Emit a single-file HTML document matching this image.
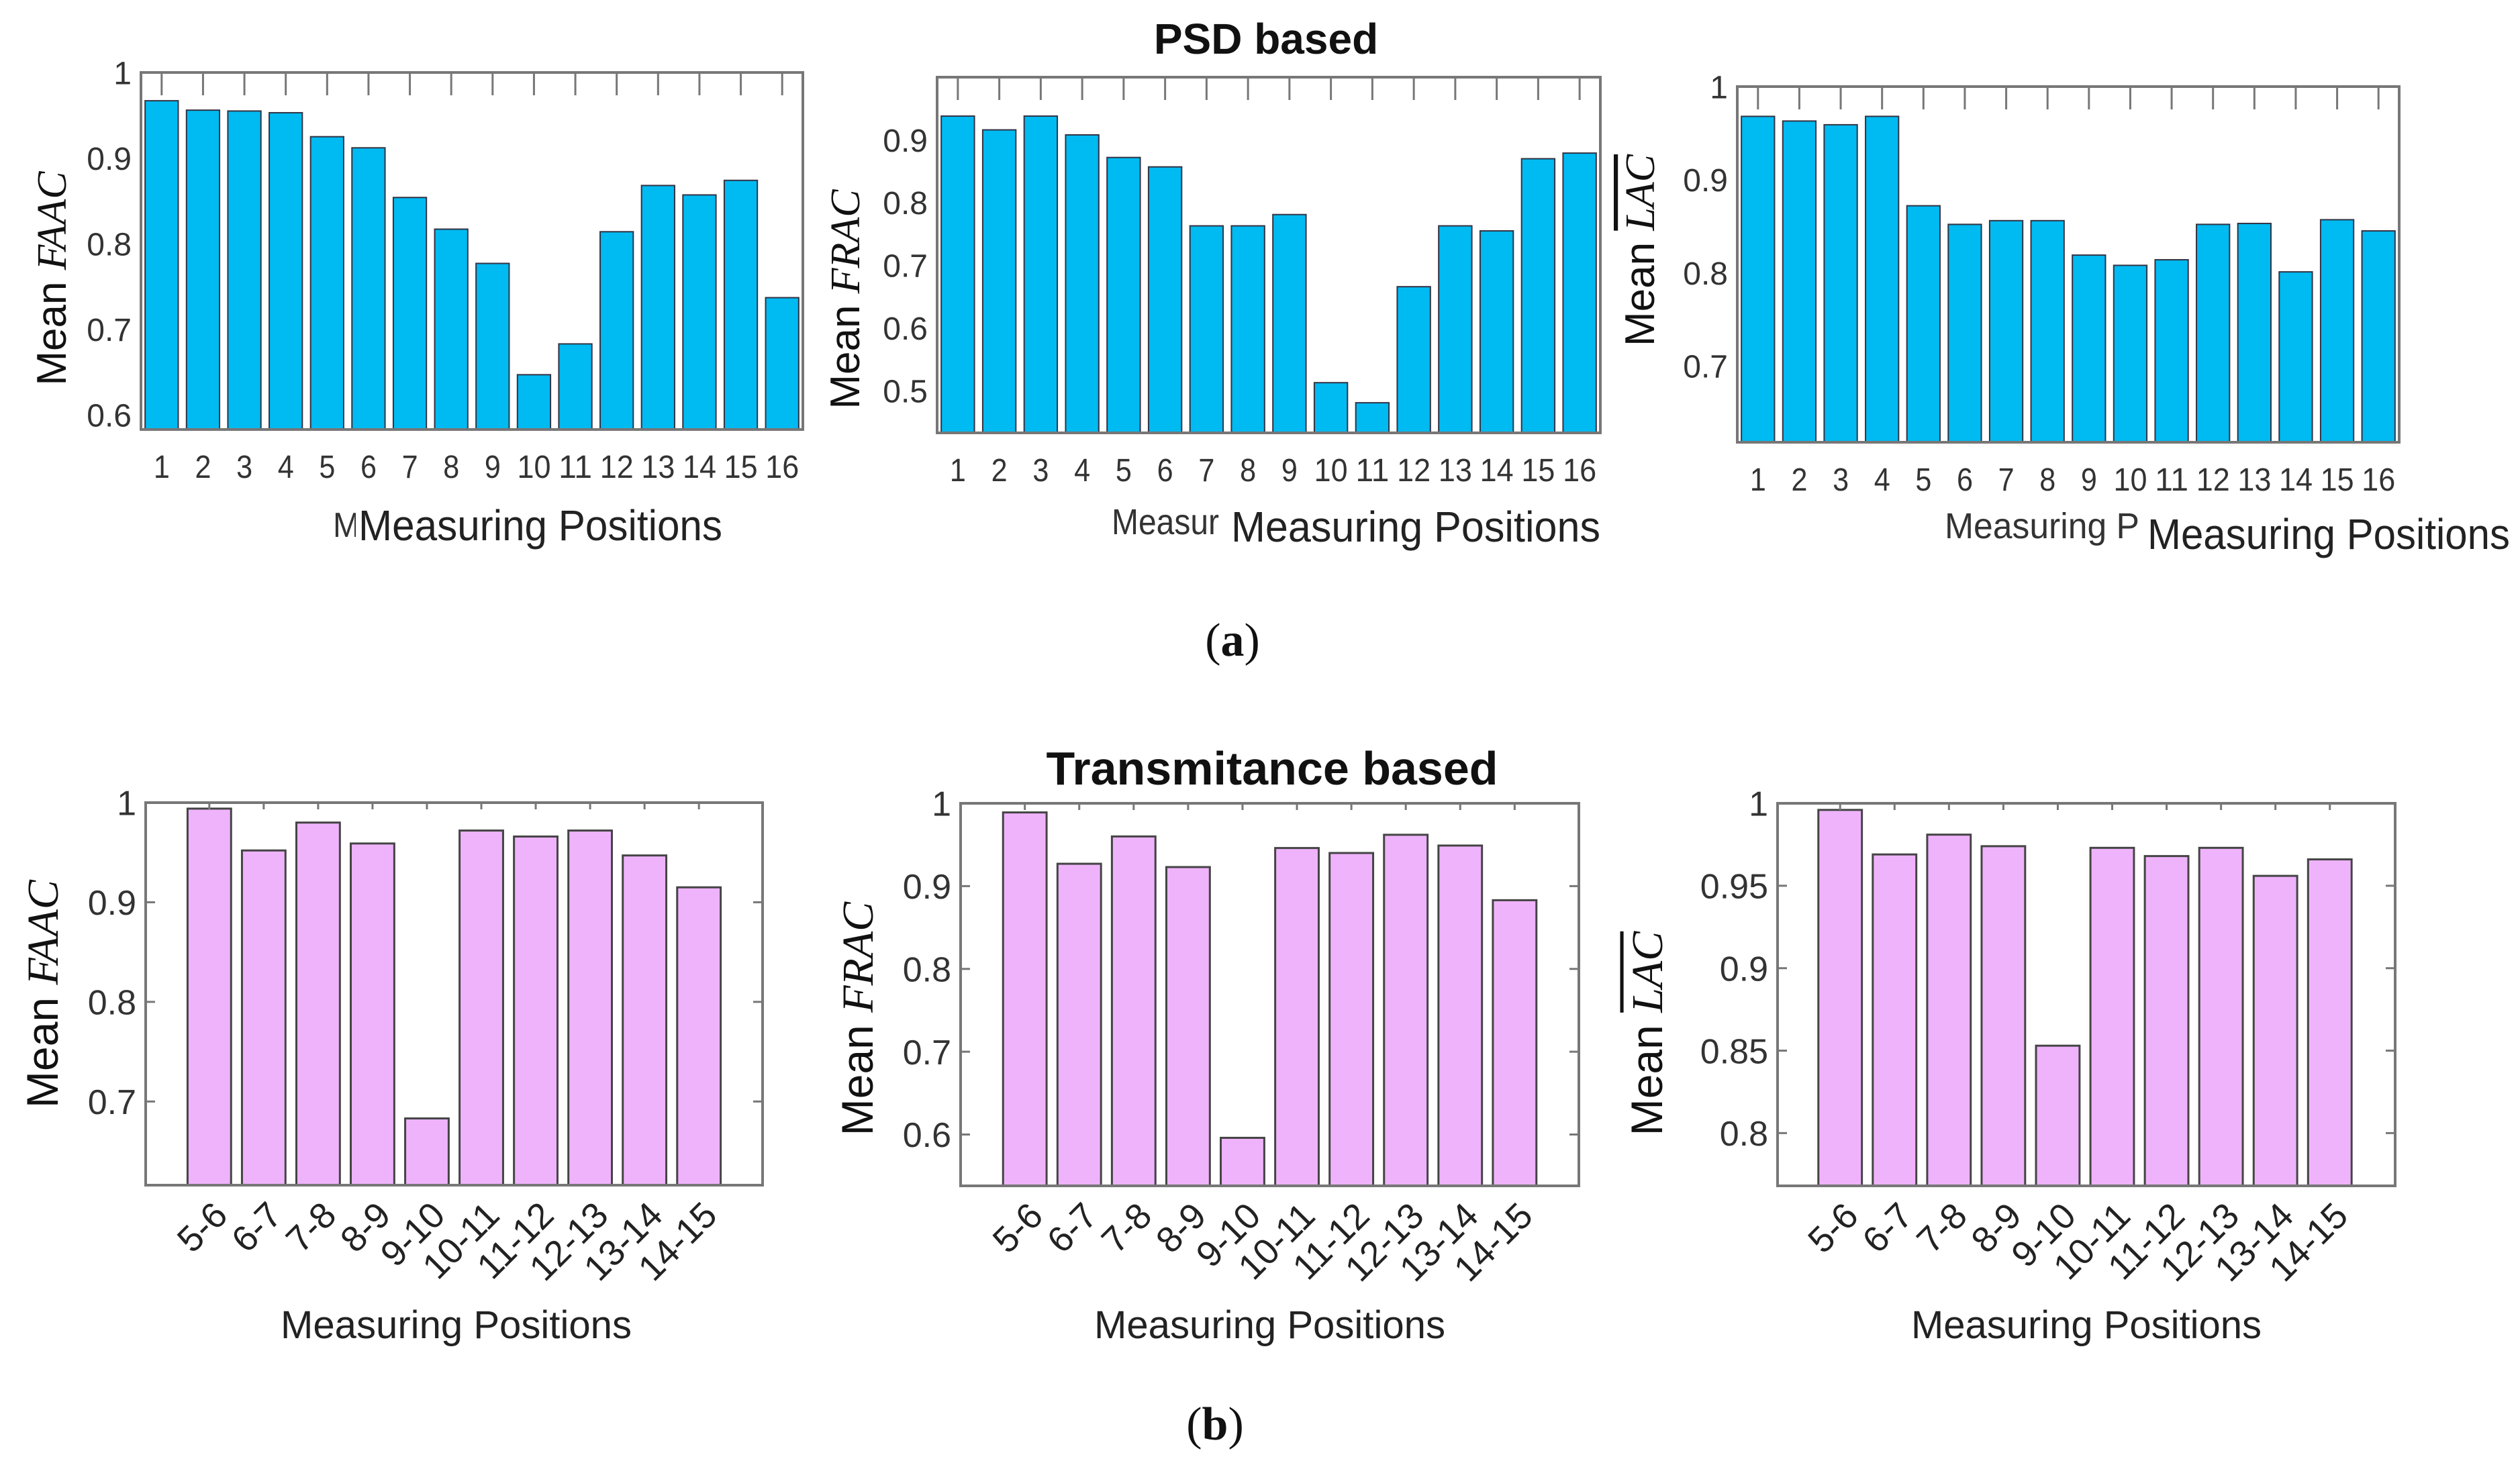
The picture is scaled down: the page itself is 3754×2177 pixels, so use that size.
<!DOCTYPE html>
<html><head><meta charset="utf-8"><style>
html,body{margin:0;padding:0;background:#fff;}
svg{display:block;}
</style></head><body>
<svg id="fig" width="3754" height="2177" viewBox="0 0 3754 2177" xmlns="http://www.w3.org/2000/svg">
<rect width="3754" height="2177" fill="#fff"/>
<text x="1886" y="80" text-anchor="middle" font-family="Liberation Sans, sans-serif" font-weight="bold" font-size="64" fill="#111">PSD based</text>
<text x="1895" y="1169" text-anchor="middle" font-family="Liberation Sans, sans-serif" font-weight="bold" font-size="70" fill="#111">Transmitance based</text>
<text x="1836" y="977" text-anchor="middle" font-family="Liberation Serif, serif" font-size="70" fill="#111">(<tspan font-weight="bold">a</tspan>)</text>
<text x="1810" y="2145" text-anchor="middle" font-family="Liberation Serif, serif" font-size="70" fill="#111">(<tspan font-weight="bold">b</tspan>)</text>
</svg>
<script>
const posCats = ["1","2","3","4","5","6","7","8","9","10","11","12","13","14","15","16"];
const pairCats = ["5-6","6-7","7-8","8-9","9-10","10-11","11-12","12-13","13-14","14-15"];
const psdFAAC = [0.967,0.956,0.955,0.953,0.925,0.912,0.854,0.817,0.777,0.647,0.683,0.814,0.868,0.857,0.874,0.737];
const psdFRAC = [0.938,0.916,0.938,0.908,0.872,0.857,0.763,0.763,0.781,0.513,0.481,0.666,0.763,0.755,0.870,0.879];
const psdLAC  = [0.968,0.963,0.959,0.968,0.872,0.852,0.856,0.856,0.819,0.808,0.814,0.852,0.853,0.801,0.857,0.845];
const trFAAC = [0.994,0.952,0.980,0.959,0.683,0.972,0.966,0.972,0.947,0.915];
const trFRAC = [0.989,0.927,0.960,0.923,0.596,0.946,0.940,0.962,0.949,0.883];
const trLAC  = [0.996,0.969,0.981,0.974,0.853,0.973,0.968,0.973,0.956,0.966];
const ticksFAAC = [0.6,0.7,0.8,0.9,1];
const ticksFRAC = [0.5,0.6,0.7,0.8,0.9];
const ticksLAC = [0.7,0.8,0.9,1];
const ticksTrFAAC = [0.7,0.8,0.9,1];
const ticksTrFRAC = [0.6,0.7,0.8,0.9,1];
const ticksTrLAC = [0.8,0.85,0.9,0.95,1];
const tickTextFAAC = ["0.6","0.7","0.8","0.9","1"];
const tickTextFRAC = ["0.5","0.6","0.7","0.8","0.9"];
const tickTextLAC = ["0.7","0.8","0.9","1"];
const tickTextTrFAAC = ["0.7","0.8","0.9","1"];
const tickTextTrFRAC = ["0.6","0.7","0.8","0.9","1"];
const tickTextTrLAC = ["0.8","0.85","0.9","0.95","1"];

const NS="http://www.w3.org/2000/svg";
const svg=document.getElementById('fig');
function mk(tag,attrs,parent){const e=document.createElementNS(NS,tag);for(const k in attrs)e.setAttribute(k,attrs[k]);(parent||svg).appendChild(e);return e;}

function chart(c){
  const g=mk('g',{});
  
  
  const xs=i=>c.L+(i+1-c.x0)/(c.x1-c.x0)*(c.R-c.L);
  const ys=v=>c.B-(v-c.ymin)/(c.ymax-c.ymin)*(c.B-c.T);
  const step=(c.R-c.L)/(c.x1-c.x0);
  const bw=step*0.8;
  c.vals.forEach((v,i)=>{
    const r=mk('rect',{x:xs(i)-bw/2,y:ys(v),width:bw,height:c.B-ys(v),fill:c.fill,stroke:c.edge,'stroke-width':c.sw},g);
    
    
  });
  const fr=mk('rect',{x:c.L,y:c.T,width:c.R-c.L,height:c.B-c.T,fill:'none',stroke:'#777','stroke-width':4},g);
  
  
  c.cats.forEach((t,i)=>{
    const x=xs(i);
    mk('line',{x1:x,y1:c.T,x2:x,y2:c.T+c.tlen,stroke:'#777','stroke-width':3},g);
    let tx;
    if(c.rot){
      const ax=x+30, ay=c.B+48;
      tx=mk('text',{x:ax,y:ay,'text-anchor':'end','font-family':'Liberation Sans, sans-serif','font-size':c.xfs,fill:'#222',transform:`rotate(-45 ${ax} ${ay})`},g);
    } else {
      tx=mk('text',{x:x,y:c.B+72,'text-anchor':'middle','font-family':'Liberation Sans, sans-serif','font-size':c.xfs,fill:'#333',textLength:(t.length>1?50:24),lengthAdjust:'spacingAndGlyphs'},g);
    }
    tx.textContent=t;
    
    
  });
  c.ticks.forEach((v,i)=>{
    const y=ys(v);
    if(c.rightTicks){
      mk('line',{x1:c.R,y1:y,x2:c.R-14,y2:y,stroke:'#777','stroke-width':3},g);
      mk('line',{x1:c.L,y1:y,x2:c.L+14,y2:y,stroke:'#777','stroke-width':3},g);
    }
    const tx=mk('text',{x:c.L-14,y:y+c.yfs*0.36,'text-anchor':'end','font-family':'Liberation Sans, sans-serif','font-size':c.yfs,fill:'#333'},g);
    tx.textContent=c.tickText[i];
    
    
  });
  const yl=mk('text',{x:c.ylx,y:c.yly,'text-anchor':'middle','font-family':'Liberation Sans, sans-serif','font-size':c.ylfs,fill:'#111',transform:`rotate(-90 ${c.ylx} ${c.yly})`},g);
  
  
  yl.appendChild(document.createTextNode('Mean '));
  const sp=mk('tspan',{'font-family':'Liberation Serif, serif','font-style':'italic'},yl);
  sp.textContent=c.ylab;
  if(c.over) sp.setAttribute('text-decoration','overline');
  if(c.ghost){
    const gt=mk('text',{x:c.ghost.x,y:c.ghost.y,'font-family':'Liberation Sans, sans-serif','font-size':c.ghost.fs,fill:'#333',textLength:c.ghost.w,lengthAdjust:'spacingAndGlyphs'},g);
    gt.textContent=c.ghost.t;
    
    
    mk('rect',{x:c.xl.x-4,y:c.xl.y-c.xl.fs*0.8,width:c.xl.w+8,height:c.xl.fs*1.05,fill:'#fff'},g);
  }
  const xl=mk('text',{x:c.xl.x,y:c.xl.y,'font-family':'Liberation Sans, sans-serif','font-size':c.xl.fs,fill:'#222',textLength:c.xl.w,lengthAdjust:'spacingAndGlyphs'},g);
  xl.textContent='Measuring Positions';
  
  
}
const blue='#00BAF2', pink='#EFB3FC';
chart({name:'psd-faac-chart',cats:posCats,vals:psdFAAC,ticks:ticksFAAC,tickText:tickTextFAAC,L:210,R:1196,T:108,B:640,ymin:0.583,ymax:1.0,x0:0.5,x1:16.5,fill:blue,edge:'#334',sw:2,tlen:34,xfs:48,yfs:48,ylab:'FAAC',ylx:98,yly:415,ylfs:62,xl:{x:534,y:805,fs:64,w:542},ghost:{x:496,y:800,fs:52,t:'M',w:40}});
chart({name:'psd-frac-chart',cats:posCats,vals:psdFRAC,ticks:ticksFRAC,tickText:tickTextFRAC,L:1396,R:2384,T:115,B:645,ymin:0.433,ymax:1.0,x0:0.5,x1:16.5,fill:blue,edge:'#334',sw:2,tlen:34,xfs:48,yfs:48,ylab:'FRAC',ylx:1280,yly:446,ylfs:62,xl:{x:1834,y:807,fs:64,w:550},ghost:{x:1656,y:796,fs:54,t:'Measur',w:160}});
chart({name:'psd-lac-chart',cats:posCats,vals:psdLAC,ticks:ticksLAC,tickText:tickTextLAC,L:2588,R:3574,T:129,B:659,ymin:0.618,ymax:1.0,x0:0.5,x1:16.5,fill:blue,edge:'#334',sw:2,tlen:34,xfs:48,yfs:48,ylab:'LAC',over:true,ylx:2464,yly:373,ylfs:62,xl:{x:3199,y:818,fs:64,w:540},ghost:{x:2897,y:802,fs:54,t:'Measuring P',w:290}});
chart({name:'trans-faac-chart',cats:pairCats,vals:trFAAC,ticks:ticksTrFAAC,tickText:tickTextTrFAAC,L:217,R:1136,T:1196,B:1766,ymin:0.616,ymax:1.0,x0:-0.17,x1:11.17,fill:pink,edge:'#444',sw:3,tlen:10,rightTicks:true,rot:true,xfs:54,yfs:52,ylab:'FAAC',ylx:86,yly:1481,ylfs:66,xl:{x:418,y:1994,fs:58,w:523}});
chart({name:'trans-frac-chart',cats:pairCats,vals:trFRAC,ticks:ticksTrFRAC,tickText:tickTextTrFRAC,L:1431,R:2352,T:1197,B:1767,ymin:0.538,ymax:1.0,x0:-0.18,x1:11.18,fill:pink,edge:'#444',sw:3,tlen:10,rightTicks:true,rot:true,xfs:54,yfs:52,ylab:'FRAC',ylx:1300,yly:1518,ylfs:66,xl:{x:1630,y:1994,fs:58,w:523}});
chart({name:'trans-lac-chart',cats:pairCats,vals:trLAC,ticks:ticksTrLAC,tickText:tickTextTrLAC,L:2648,R:3568,T:1197,B:1767,ymin:0.768,ymax:1.0,x0:-0.15,x1:11.2,fill:pink,edge:'#444',sw:3,tlen:10,rightTicks:true,rot:true,xfs:54,yfs:52,ylab:'LAC',over:true,ylx:2476,yly:1540,ylfs:66,xl:{x:2847,y:1994,fs:58,w:522}});
</script>
</body></html>
